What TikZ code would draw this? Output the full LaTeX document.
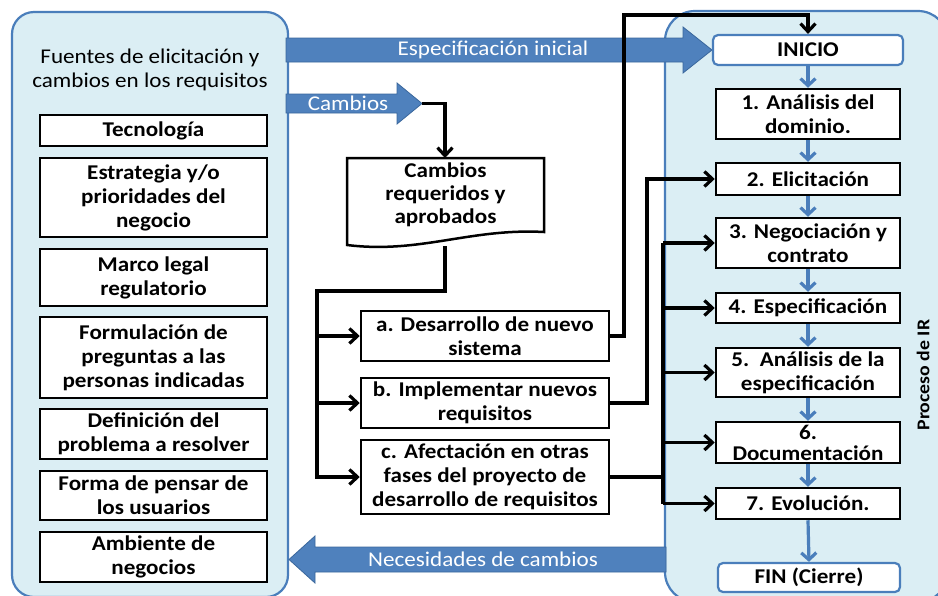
\documentclass[tikz,border=0pt]{standalone}
\usepackage{fontspec}
\setmainfont{Carlito}[FakeStretch=1.1]
\usetikzlibrary{arrows.meta}
\definecolor{contfill}{HTML}{DBEEF4}
\definecolor{contdraw}{HTML}{4A7EBB}
\definecolor{arrfill}{HTML}{4F81BD}
\definecolor{arrdraw}{HTML}{3A679C}
\definecolor{flowc}{HTML}{4A7EBB}
\begin{document}
\begin{tikzpicture}[x=1pt,y=-1pt,
  container/.style={draw=contdraw, fill=contfill, line width=2.2pt},
  bigarrow/.style={draw=arrdraw, fill=arrfill, line width=0.8pt, line join=miter},
  arrlabel/.style={text=white, font=\fontsize{21}{24}\selectfont, inner sep=0pt},
  bbox/.style={draw=black, fill=white, line width=2.5pt, inner sep=0pt, align=center,
     font=\bfseries\fontsize{21}{24}\selectfont},
  rbox/.style={draw=contdraw, fill=white, line width=2.2pt, rounded corners=5pt, inner sep=0pt,
     align=center, font=\bfseries\fontsize{21}{24}\selectfont},
  flowarrow/.style={draw=flowc, line width=3.2pt, -{Straight Barb[length=7pt,width=15pt]}},
  conn/.style={draw=black, line width=3.2pt},
  connarrow/.style={conn, -{Straight Barb[length=8pt,width=15pt]}}
]
\useasboundingbox (0,0) rectangle (938,595);
\clip (0,0) rectangle (938,595);
\fill[white] (0,0) rectangle (938,595);

% containers
\draw[container, rounded corners=22pt] (12,12) rectangle (288,597);
\draw[container, rounded corners=30pt] (665,11) rectangle (948,602);

% title
\node[align=center, font=\fontsize{21}{24}\selectfont] (title) at (150,70)
  {Fuentes de elicitación y\\cambios en los requisitos};

% left boxes
\node[bbox, minimum width=227pt, minimum height=31pt] (tec) at (153.5,130.5) {Tecnología};
\node[bbox, minimum width=227pt, minimum height=79pt] (est) at (153.5,197.5) {Estrategia y/o\\prioridades del\\negocio};
\node[bbox, minimum width=227pt, minimum height=57pt] (mar) at (153.5,277.5) {Marco legal\\regulatorio};
\node[bbox, minimum width=227pt, minimum height=81pt] (for) at (153.5,357.5) {Formulación de\\preguntas a las\\personas indicadas};
\node[bbox, minimum width=227pt, minimum height=50pt] (def) at (153.5,434) {Definición del\\problema a resolver};
\node[bbox, minimum width=227pt, minimum height=49pt] (fpu) at (153.5,495.5) {Forma de pensar de\\los usuarios};
\node[bbox, minimum width=227pt, minimum height=50pt] (amb) at (153.5,557) {Ambiente de\\negocios};

% big arrows
\draw[bigarrow] (286,38) -- (683,38) -- (683,27) -- (712,50) -- (683,73) -- (683,62) -- (286,62) -- cycle;
\node[arrlabel] (espl) at (493,50) {Especificación inicial};
\draw[bigarrow] (286,94) -- (397,94) -- (397,83) -- (422,103.5) -- (397,124) -- (397,113) -- (286,113) -- cycle;
\node[arrlabel] (caml) at (348,103.5) {Cambios};
\coordinate (cambtip) at (422,103.5);
\draw[bigarrow] (666,547) -- (315,547) -- (315,536) -- (289,559.5) -- (315,583) -- (315,572) -- (666,572) -- cycle;
\node[arrlabel] (necl) at (483,559.5) {Necesidades de cambios};

% process boxes
\node[rbox, minimum width=190pt, minimum height=30pt] (inicio) at (808,50) {INICIO};
\node[bbox, minimum width=184pt, minimum height=50pt] (p1) at (808,114) {1. Análisis del\\dominio.};
\node[bbox, minimum width=184pt, minimum height=32pt] (p2) at (808,179) {2. Elicitación};
\node[bbox, minimum width=184pt, minimum height=50pt] (p3) at (808,243) {3. Negociación y\\contrato};
\node[bbox, minimum width=184pt, minimum height=30pt] (p4) at (808,308) {4. Especificación};
\node[bbox, minimum width=184pt, minimum height=49pt] (p5) at (808,372.5) {5.\ \ Análisis de la\\especificación};
\node[bbox, minimum width=184pt, minimum height=41pt, font=\bfseries\fontsize{21}{21}\selectfont] (p6) at (808,442.5) {6.\\Documentación};
\node[bbox, minimum width=184pt, minimum height=31pt] (p7) at (808,503.5) {7. Evolución.};
\node[rbox, minimum width=182pt, minimum height=29pt] (fin) at (809,577.5) {FIN (Cierre)};

\node[rotate=90, font=\bfseries\fontsize{18}{20}\selectfont] (proc) at (923,375) {Proceso de IR};

% blue flow arrows
\draw[flowarrow] (inicio.south) -- (p1.north);
\draw[flowarrow] (p1.south) -- (p2.north);
\draw[flowarrow] (p2.south) -- (p3.north);
\draw[flowarrow] (p3.south) -- (p4.north);
\draw[flowarrow] (p4.south) -- (p5.north);
\draw[flowarrow] (p5.south) -- (p6.north);
\draw[flowarrow] (p6.south) -- (p7.north);
\draw[flowarrow] (p7.south) -- (fin.north);

% document shape
\draw[line width=2.5pt, fill=white] (347,158) -- (544,158) -- (544,232)
  .. controls (470,228) and (420,254) .. (347,245) -- cycle;
\node[inner sep=0pt, align=center, font=\bfseries\fontsize{21}{23}\selectfont] (doc) at (445.5,195) {Cambios\\requeridos y\\aprobados};
\coordinate (docbot) at (445,246);
\coordinate (doctop) at (445,158);

% middle boxes
\node[bbox, minimum width=248pt, minimum height=50pt] (a) at (485,336) {a. Desarrollo de nuevo\\sistema};
\node[bbox, minimum width=248pt, minimum height=50pt] (b) at (485,403) {b. Implementar nuevos\\requisitos};
\node[bbox, minimum width=248pt, minimum height=74pt] (c) at (485,477) {c. Afectación en otras\\fases del proyecto de\\desarrollo de requisitos};

% black connectors
\draw[connarrow] (cambtip) -| (doctop);
\coordinate (split) at (317,291);
\draw[connarrow] (docbot) |- (split) |- (c.west);
\draw[connarrow] (split |- a.west) -- (a.west);
\draw[connarrow] (split |- b.west) -- (b.west);

\coordinate (av) at (624,15);
\draw[connarrow] (a.east) -| (av) -| (inicio.north);
\coordinate (bv) at (647,0);
\draw[connarrow] (b.east) -| (bv |- p2.west) -- (p2.west);
\coordinate (cv) at (663,0);
\draw[conn] (c.east) -- (cv |- c.east);
\draw[conn] (cv |- p3.west) -- (cv |- p7.west);
\draw[connarrow] (cv |- p3.west) -- (p3.west);
\draw[connarrow] (cv |- p4.west) -- (p4.west);
\draw[connarrow] (cv |- p5.west) -- (p5.west);
\draw[connarrow] (cv |- p6.west) -- (p6.west);
\draw[connarrow] (cv |- p7.west) -- (p7.west);
\end{tikzpicture}
\end{document}
